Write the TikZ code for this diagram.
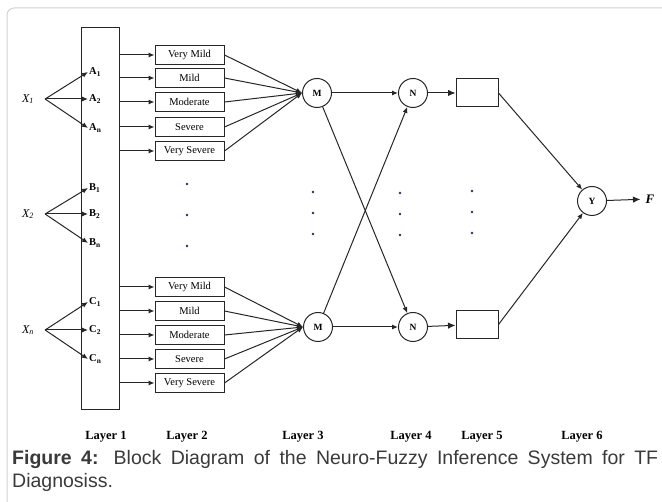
\documentclass[tikz,border=0pt]{standalone}
\usepackage{fontspec}
\setmainfont{Liberation Serif}
\newfontfamily\capfont{Liberation Sans}
\usetikzlibrary{arrows.meta,positioning}
\definecolor{ln}{HTML}{262626}
\definecolor{frm}{HTML}{D2D2D2}
\definecolor{captxt}{HTML}{3A3A3A}
\definecolor{dotc}{HTML}{1F2F5A}
\tikzset{
  wire/.style={draw=ln, line width=1pt},
  arr/.style={wire, -{Latex[length=6pt,width=5pt]}},
  bigarr/.style={wire, -{Latex[length=7.5pt,width=6.5pt]}},
  mf/.style={draw=ln, line width=1pt, minimum width=69pt, minimum height=19pt, inner sep=0pt, font=\fontsize{10.5}{11}\selectfont},
  rulenode/.style={circle, draw=ln, line width=1pt, minimum size=29pt, inner sep=0pt, font=\fontsize{9.5}{10}\selectfont\bfseries},
  outbox/.style={draw=ln, line width=1pt, minimum width=42pt, minimum height=28pt, inner sep=0pt},
  inp/.style={font=\fontsize{12}{13}\selectfont\itshape, inner sep=1pt},
  mem/.style={font=\fontsize{10.5}{11}\selectfont\bfseries, inner sep=1pt, anchor=west},
  lay/.style={font=\fontsize{12.5}{13}\selectfont\bfseries},
  dot/.style={circle, fill=dotc, inner sep=0.9pt},
}

\begin{document}
\begin{tikzpicture}[x=1pt,y=-1pt]
\useasboundingbox (0,0) rectangle (662,502);
% frame
\draw[frm, line width=1pt, rounded corners=7pt] (7,503) -- (7,8) -- (663,8);

% layer 1
\node[draw=ln, line width=1pt, minimum width=38pt, minimum height=382pt, inner sep=0pt] (l1) at (100,219) {};

% inputs and their membership labels
\foreach \v/\s/\y in {x1/1/99, x2/2/214, xn/n/330}{
  \node[inp] (\v) at (28,\y) {X\textsubscript{\s}};
  \coordinate[right=10pt of \v] (\v o);
}
\foreach \m/\t/\s/\y/\v in {a1/A/1/72/x1, a2/A/2/99/x1, an/A/n/128/x1,
                            b1/B/1/188/x2, b2/B/2/214/x2, bn/B/n/243/x2,
                            c1/C/1/302/xn, c2/C/2/330/xn, cn/C/n/359/xn}{
  \node[mem] (\m) at (88,\y) {\t\textsubscript{\s}};
  \draw[arr] (\v o) -- (\m.west);
}

% layer 2 (two groups)
\foreach \i/\t/\y in {1/Very Mild/55, 2/Mild/78, 3/Moderate/102, 4/Severe/127, 5/Very Severe/151}{
  \node[mf] (t\i) at (189.5,\y) {\t};
  \draw[arr] (l1.east |- t\i.west) -- (t\i.west);
}
\foreach \i/\t/\y in {1/Very Mild/287, 2/Mild/311, 3/Moderate/335, 4/Severe/359, 5/Very Severe/383}{
  \node[mf] (b\i) at (189.5,\y) {\t};
  \draw[arr] (l1.east |- b\i.west) -- (b\i.west);
}

% layers 3 to 6
\node[rulenode] (mt) at (317,93) {M};
\node[rulenode] (mb) at (318,327) {M};
\node[rulenode] (nt) at (413,93) {N};
\node[rulenode] (nb) at (413,327) {N};
\node[outbox] (ot) at (477,93) {};
\node[outbox] (ob) at (477,324.5) {};
\node[rulenode] (y) at (592,201) {Y};
\node[font=\fontsize{13}{14}\selectfont\bfseries\itshape, inner sep=5pt] (f) at (650,199) {F};

\foreach \i in {1,...,5}{
  \draw[arr] (t\i.east) -- (mt.west);
  \draw[arr] (b\i.east) -- (mb.west);
}
\draw[arr] (mt) -- (nt);
\draw[arr] (mb) -- (nb);
\draw[arr] (mt) -- (nb);
\draw[arr] (mb) -- (nt);
\draw[bigarr] (nt) -- (ot);
\draw[bigarr] (nb) -- (ob);
\draw[arr] (ot.east) -- (y);
\draw[arr] (ob.east) -- (y);
\draw[bigarr] (y) -- (f);

% dots
\foreach \y in {184,215,246} \node[dot] (d2\y) at (187,\y) {};
\foreach \x/\y in {313/192, 400/193, 472/191}{
  \foreach \k in {0,1,2} \node[dot] (d\x\k) at (\x,\y+21*\k) {};
}

% layer labels
\foreach \i/\x in {1/106, 2/187, 3/303, 4/411, 5/482, 6/582}
  \node[lay] (lay\i) at (\x,437) {Layer \i};

% caption
\node[anchor=north west, inner sep=0pt, text width=646pt, align=justify, text=captxt,
      font=\capfont\fontsize{19.5}{23}\selectfont] (cap) at (12,450)
  {\textbf{Figure 4:} Block Diagram of the Neuro-Fuzzy Inference System for TF\linebreak Diagnosiss.};
\end{tikzpicture}
\end{document}
